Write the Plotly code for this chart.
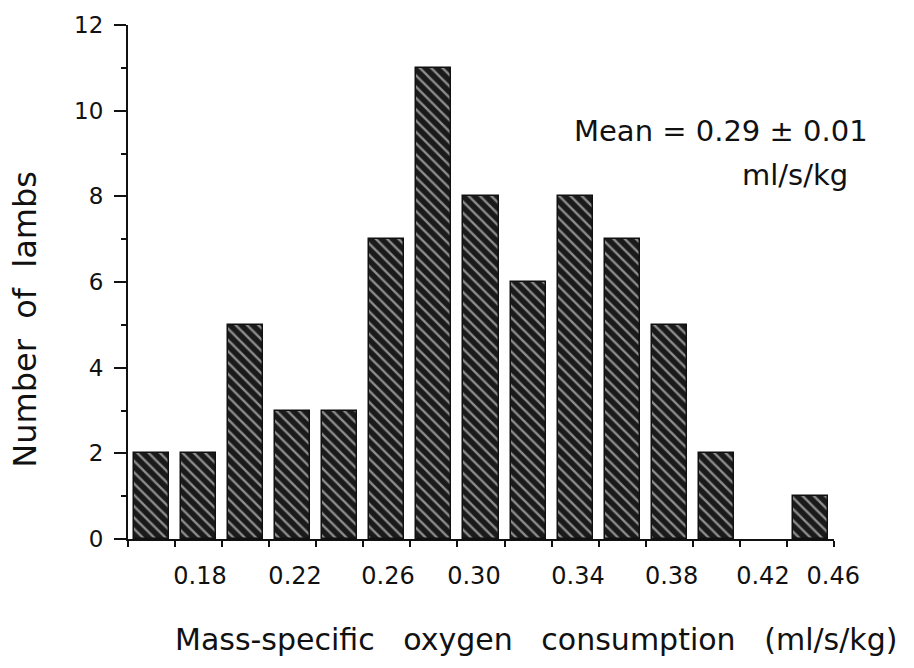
import plotly.graph_objects as go

# Data
bin_centers = [0.16, 0.18, 0.20, 0.22, 0.24, 0.26, 0.28, 0.30, 0.32, 0.34, 0.36, 0.38, 0.40, 0.42, 0.44]
counts = [2, 2, 5, 3, 3, 7, 11, 8, 6, 8, 7, 5, 2, 0, 1]
x_tick_text = ["0.18", "0.22", "0.26", "0.30", "0.34", "0.38", "0.42", "0.46"]
x_tick_pos = [0.1806, 0.221, 0.2605, 0.297, 0.3412, 0.381, 0.4198, 0.4497]
y_tick_vals = [0, 2, 4, 6, 8, 10, 12]

FONT = "DejaVu Sans"

fig = go.Figure()
fig.add_trace(go.Bar(
    x=bin_centers,
    y=counts,
    width=0.0149,
    marker=dict(
        color="#1a1a1a",
        line=dict(color="#111", width=[1.5 if c > 0 else 0 for c in counts]),
        pattern=dict(shape="\\", fgcolor="white", bgcolor="#1a1a1a", size=8, solidity=0.3),
    ),
    showlegend=False,
))

fig.update_layout(
    width=914, height=668,
    margin=dict(l=128, r=80, t=21, b=129),
    paper_bgcolor="white", plot_bgcolor="white",
    font=dict(family=FONT, color="#111"),
    bargap=0,
)

fig.update_xaxes(
    range=[0.15, 0.45],
    showgrid=False, zeroline=False,
    showline=True, linecolor="#111", linewidth=2,
    tickmode="array", tickvals=x_tick_pos, ticktext=x_tick_text,
    ticks="", tickfont=dict(size=24, family=FONT, color="#111"),
    ticklabelstandoff=14,
    minor=dict(tick0=0.15, dtick=0.02, ticks="outside", ticklen=6, tickwidth=2, tickcolor="#111", showgrid=False),
)
fig.update_yaxes(
    range=[0, 12],
    showgrid=False, zeroline=False,
    showline=True, linecolor="#111", linewidth=2,
    tickmode="array", tickvals=y_tick_vals,
    ticks="outside", ticklen=12, tickwidth=2, tickcolor="#111",
    tickfont=dict(size=23, family=FONT, color="#111"),
    ticklabelstandoff=6,
    minor=dict(tick0=0, dtick=1, ticks="outside", ticklen=5, tickwidth=2, tickcolor="#111", showgrid=False),
)

# short extension of the x axis line to the left of the y axis
fig.add_shape(type="line", xref="paper", yref="y", x0=-0.019, x1=0, y0=0, y1=0,
              line=dict(color="#111", width=2))

NB = "\u00a0"
fig.add_annotation(
    text=f"Mass-specific{NB*3}oxygen{NB*3}consumption{NB*3}(ml/s/kg)",
    xref="paper", yref="paper", x=0.578, y=-0.195,
    xanchor="center", yanchor="middle", showarrow=False,
    font=dict(size=30, family=FONT, color="#111"),
)
fig.add_annotation(
    text=f"Number{NB*2}of{NB*2}lambs",
    xref="paper", yref="paper", x=-0.147, y=0.427,
    xanchor="center", yanchor="middle", textangle=-90, showarrow=False,
    font=dict(size=32, family=FONT, color="#111"),
)
fig.add_annotation(
    text="Mean = 0.29 ± 0.01",
    xref="paper", yref="paper", x=0.629, y=0.793,
    xanchor="left", yanchor="middle", showarrow=False,
    font=dict(size=29, family=FONT, color="#111"),
)
fig.add_annotation(
    text="ml/s/kg",
    xref="paper", yref="paper", x=0.867, y=0.708,
    xanchor="left", yanchor="middle", showarrow=False,
    font=dict(size=29, family=FONT, color="#111"),
)

fig.write_html("out.html")
